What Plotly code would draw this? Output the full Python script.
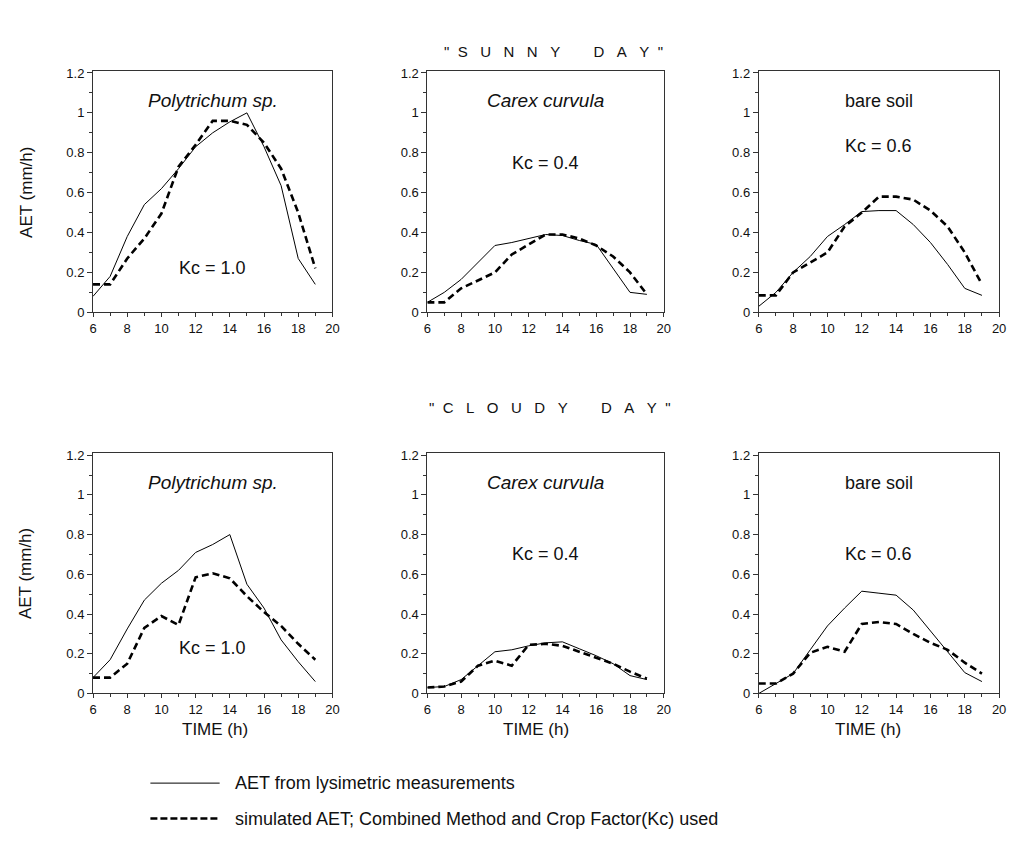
import plotly.graph_objects as go

hours = [6, 7, 8, 9, 10, 11, 12, 13, 14, 15, 16, 17, 18, 19]

# Sunny day
sunny_poly_meas = [0.08, 0.18, 0.38, 0.54, 0.62, 0.72, 0.83, 0.90, 0.955, 1.0, 0.83, 0.635, 0.27, 0.14]
sunny_poly_sim = [0.14, 0.14, 0.27, 0.37, 0.495, 0.73, 0.84, 0.96, 0.96, 0.94, 0.85, 0.72, 0.50, 0.22]
sunny_carex_meas = [0.05, 0.10, 0.165, 0.25, 0.335, 0.35, 0.37, 0.39, 0.385, 0.36, 0.34, 0.22, 0.10, 0.09]
sunny_carex_sim = [0.05, 0.05, 0.12, 0.16, 0.20, 0.29, 0.34, 0.39, 0.39, 0.37, 0.335, 0.28, 0.20, 0.09]
sunny_soil_meas = [0.03, 0.10, 0.20, 0.28, 0.38, 0.44, 0.505, 0.51, 0.51, 0.44, 0.35, 0.24, 0.12, 0.085]
sunny_soil_sim = [0.085, 0.085, 0.20, 0.25, 0.30, 0.43, 0.50, 0.58, 0.58, 0.565, 0.51, 0.43, 0.30, 0.14]

# Cloudy day
cloudy_poly_meas = [0.08, 0.17, 0.325, 0.47, 0.555, 0.62, 0.71, 0.75, 0.80, 0.55, 0.43, 0.27, 0.16, 0.06]
cloudy_poly_sim = [0.08, 0.08, 0.15, 0.33, 0.39, 0.345, 0.585, 0.605, 0.58, 0.49, 0.41, 0.34, 0.25, 0.17]
cloudy_carex_meas = [0.03, 0.035, 0.07, 0.14, 0.21, 0.22, 0.24, 0.255, 0.26, 0.225, 0.19, 0.15, 0.09, 0.07]
cloudy_carex_sim = [0.03, 0.035, 0.06, 0.14, 0.165, 0.14, 0.245, 0.25, 0.24, 0.21, 0.18, 0.15, 0.11, 0.075]
cloudy_soil_meas = [0.0, 0.05, 0.10, 0.22, 0.34, 0.43, 0.515, 0.505, 0.495, 0.42, 0.315, 0.21, 0.105, 0.06]
cloudy_soil_sim = [0.05, 0.05, 0.10, 0.205, 0.235, 0.21, 0.35, 0.36, 0.35, 0.30, 0.255, 0.22, 0.155, 0.10]

panel_titles = ["Polytrichum sp.", "Carex curvula", "bare soil"]
panel_italic = [True, True, False]
kc_labels = ["Kc = 1.0", "Kc = 0.4", "Kc = 0.6"]
row_words = [["SUNNY", "DAY"], ["CLOUDY", "DAY"]]
legend_labels = ["AET from lysimetric measurements",
                 "simulated AET; Combined Method and Crop Factor(Kc) used"]

W, H = 1017, 864
FONT = "Liberation Sans, Arial, Helvetica, sans-serif"
NARROW = "Liberation Sans Narrow, Arial Narrow, Liberation Sans, Arial, sans-serif"
NB = "\u00a0"


def px(x):
    return x / W


def py(y):
    return 1 - y / H


def spaced(words):
    inner = (NB * 8).join((NB * 3).join(list(w)) for w in words)
    return '"' + NB * 2 + inner + NB * 2 + '"'


x_doms = [(90, 332), (428, 667), (763, 1006)]
y_doms = [(312, 67), (699, 455)]

data = [
    [(sunny_poly_meas, sunny_poly_sim), (sunny_carex_meas, sunny_carex_sim), (sunny_soil_meas, sunny_soil_sim)],
    [(cloudy_poly_meas, cloudy_poly_sim), (cloudy_carex_meas, cloudy_carex_sim), (cloudy_soil_meas, cloudy_soil_sim)],
]

fig = go.Figure()
layout = {}
annotations = []


def ann(x, y, text, size, family=FONT, xanchor="center", angle=0):
    annotations.append(dict(x=px(x), y=py(y), xref="paper", yref="paper", text=text,
                            xanchor=xanchor, yanchor="middle", textangle=angle,
                            showarrow=False,
                            font=dict(family=family, size=size, color="#111")))


idx = 0
for r in range(2):
    for c in range(3):
        idx += 1
        xa = "x" if idx == 1 else f"x{idx}"
        ya = "y" if idx == 1 else f"y{idx}"
        meas, sim = data[r][c]
        fig.add_trace(go.Scatter(x=hours, y=meas, mode="lines", xaxis=xa, yaxis=ya,
                                 line=dict(color="black", width=1), showlegend=False))
        fig.add_trace(go.Scatter(x=hours, y=sim, mode="lines", xaxis=xa, yaxis=ya,
                                 line=dict(color="black", width=2.6, dash="7px,4px"), showlegend=False))
        x0, x1 = x_doms[c]
        yb, yt = y_doms[r]
        xkey = "xaxis" if idx == 1 else f"xaxis{idx}"
        ykey = "yaxis" if idx == 1 else f"yaxis{idx}"
        layout[xkey] = dict(domain=[px(x0), px(x1)], range=[6, 20], anchor=ya,
                            tickmode="linear", tick0=6, dtick=2,
                            ticks="outside", ticklen=4, tickcolor="#333",
                            minor=dict(dtick=1, ticks="outside", ticklen=3, tickcolor="#333"),
                            showline=True, linecolor="#333", linewidth=1, mirror=True,
                            showgrid=False, zeroline=False,
                            tickfont=dict(family=FONT, size=13, color="#111"))
        layout[ykey] = dict(domain=[py(yb), py(yt)], range=[0, 1.21], anchor=xa,
                            tickmode="linear", tick0=0, dtick=0.2,
                            ticks="outside", ticklen=5, tickcolor="#333",
                            minor=dict(dtick=0.1, ticks="outside", ticklen=3, tickcolor="#333"),
                            showline=True, linecolor="#333", linewidth=1, mirror=True,
                            showgrid=False, zeroline=False,
                            tickfont=dict(family=FONT, size=13, color="#111"))
        cx = (x0 + x1) / 2
        title = panel_titles[c]
        if panel_italic[c]:
            title = f"<i>{title}</i>"
        ann(cx, yt + 30, title, 19 if panel_italic[c] else 18)
        if r == 0:
            kc_y = [267, 160, 143][c]
        else:
            kc_y = [653, 557, 557][c]
        ann(cx, kc_y, kc_labels[c], 18)

# Row titles
ann(556, 47, spaced(row_words[0]), 15, family=NARROW)
ann(552, 409, spaced(row_words[1]), 15, family=NARROW)

# Y-axis titles
for yc in [190, 577]:
    ann(22, yc, "AET (mm/h)", 17, angle=-90)
# X-axis titles
for xc in [213, 538, 873]:
    ann(xc, 736, "TIME (h)", 17)

# Legend
shapes = [
    dict(type="line", xref="paper", yref="paper", x0=px(148), x1=px(218), y0=py(790), y1=py(790),
         line=dict(color="black", width=1)),
    dict(type="line", xref="paper", yref="paper", x0=px(148), x1=px(218), y0=py(826), y1=py(826),
         line=dict(color="black", width=2.6, dash="7px,3px")),
]
for yv, txt in zip([790, 826], legend_labels):
    ann(232, yv, txt, 18, xanchor="left")

fig.update_layout(**layout)
fig.update_layout(width=W, height=H, margin=dict(l=0, r=0, t=0, b=0),
                  paper_bgcolor="white", plot_bgcolor="white",
                  annotations=annotations, shapes=shapes, showlegend=False)

fig.write_html("out.html", config={"displayModeBar": False},
               post_script="document.body.style.margin='0px';")
